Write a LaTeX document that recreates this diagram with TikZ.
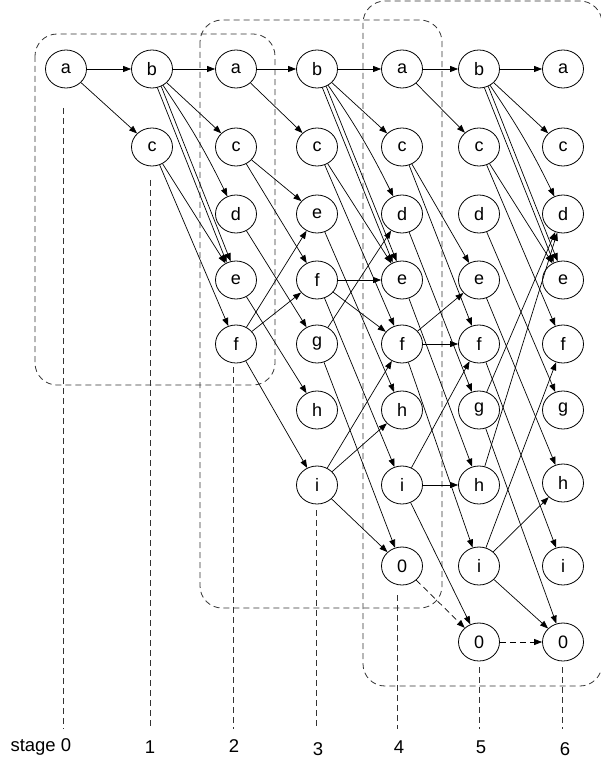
\documentclass[tikz,border=0pt]{standalone}
\usepackage{fontspec}
\setmainfont{Liberation Sans}
\usetikzlibrary{arrows.meta,shapes.geometric}
\begin{document}
\begin{tikzpicture}[x=1pt,y=-1pt,
  st/.style={ellipse,draw,line width=0.8pt,minimum width=41pt,minimum height=38pt,inner sep=0pt,font=\fontsize{18}{21}\selectfont},
  ar/.style={-{Triangle[length=8pt,width=6pt]},line width=0.7pt},
  dar/.style={ar,dash pattern=on 6pt off 4pt},
  gridline/.style={dash pattern=on 6pt off 4pt,line width=0.8pt,black!80},
  lab/.style={font=\fontsize{18.5}{21}\selectfont}]
\useasboundingbox (0,0) rectangle (601,759);
% window boxes
\draw[gridline,rounded corners=22pt] (35,34) rectangle (275,385);
\draw[gridline,rounded corners=22pt] (200,20) rectangle (442,608);
\draw[gridline,rounded corners=22pt] (363,1) rectangle (602,686);
% stage lines
\foreach \n/\x/\t in {0/63/108,1/150/180,2/233/367,3/316/510,4/397/595,5/479/667,6/562/667}{
  \coordinate (s\n t) at (\x,\t);
  \coordinate (s\n b) at (\x,729);
  \draw[gridline] (s\n t) -- (s\n b);
}
\node[lab,anchor=west] (l0) at (7,747) {stage 0};
\node[lab] (l1) at (150,747) {1};
\node[lab] (l2) at (234,746) {2};
\node[lab] (l3) at (318,749) {3};
\node[lab] (l4) at (399,747) {4};
\node[lab] (l5) at (481,747) {5};
\node[lab] (l6) at (565,749) {6};
% nodes
\node[st] (a0) at (66,69) {a};
\node[st] (b1) at (152,69) {b};
\node[st] (c1) at (152,147) {c};
\node[st] (a2) at (236,69) {a};
\node[st] (c2) at (236,147) {c};
\node[st] (d2) at (236,214) {d};
\node[st] (e2) at (236,280) {e};
\node[st] (f2) at (236,344) {f};
\node[st] (b3) at (317,69) {b};
\node[st] (c3) at (317,147) {c};
\node[st] (e3) at (317,214) {e};
\node[st] (f3) at (317,280) {f};
\node[st] (g3) at (317,344) {g};
\node[st] (h3) at (317,410) {h};
\node[st] (i3) at (317,485) {i};
\node[st] (a4) at (402,69) {a};
\node[st] (c4) at (402,147) {c};
\node[st] (d4) at (402,214) {d};
\node[st] (e4) at (402,280) {e};
\node[st] (f4) at (402,344) {f};
\node[st] (h4) at (402,410) {h};
\node[st] (i4) at (402,485) {i};
\node[st] (z4) at (402,566) {0};
\node[st] (b5) at (479,69) {b};
\node[st] (c5) at (479,147) {c};
\node[st] (d5) at (479,214) {d};
\node[st] (e5) at (479,280) {e};
\node[st] (f5) at (479,344) {f};
\node[st] (g5) at (479,410) {g};
\node[st] (h5) at (479,485) {h};
\node[st] (i5) at (479,566) {i};
\node[st] (z5) at (479,642) {0};
\node[st] (a6) at (563,69) {a};
\node[st] (c6) at (563,147) {c};
\node[st] (d6) at (563,214) {d};
\node[st] (e6) at (563,280) {e};
\node[st] (f6) at (563,344) {f};
\node[st] (g6) at (563,410) {g};
\node[st] (h6) at (563,483) {h};
\node[st] (i6) at (563,566) {i};
\node[st] (z6) at (563,642) {0};
% stage 0 -> 1
\draw[ar] (a0) -- (b1);
\draw[ar] (a0) -- (c1);
% stage 1 -> 2
\draw[ar] (b1) -- (a2);
\draw[ar] (b1) -- (c2);
\draw[ar] (b1) to[bend left=4] (d2);
\draw[ar] (b1.-62) -- (e2.106);
\draw[ar] (b1.-74) -- (e2.118);
\draw[ar] (c1) -- (e2);
\draw[ar] (c1) -- (f2);
% stage 2 -> 3
\draw[ar] (a2) -- (b3);
\draw[ar] (a2) -- (c3);
\draw[ar] (c2) -- (e3);
\draw[ar] (c2) -- (f3);
\draw[ar] (d2) -- (g3);
\draw[ar] (e2) -- (h3);
\draw[ar] (f2) -- (e3);
\draw[ar] (f2) -- (f3);
\draw[ar] (f2) -- (i3);
% stage 3 -> 4
\draw[ar] (b3) -- (a4);
\draw[ar] (b3) -- (c4);
\draw[ar] (b3) to[bend left=4] (d4);
\draw[ar] (b3.-62) -- (e4.106);
\draw[ar] (b3.-74) -- (e4.118);
\draw[ar] (c3) -- (e4);
\draw[ar] (c3) -- (f4);
\draw[ar] (e3) -- (h4);
\draw[ar] (f3) -- (e4);
\draw[ar] (f3) -- (f4);
\draw[ar] (f3) -- (i4);
\draw[ar] (g3) -- (d4);
\draw[ar] (g3) -- (z4);
\draw[ar] (i3) -- (f4);
\draw[ar] (i3) -- (h4);
\draw[ar] (i3) -- (z4);
% stage 4 -> 5
\draw[ar] (a4) -- (b5);
\draw[ar] (a4) -- (c5);
\draw[ar] (c4) -- (e5);
\draw[ar] (c4) -- (f5);
\draw[ar] (d4) -- (g5);
\draw[ar] (e4) -- (h5);
\draw[ar] (f4) -- (e5);
\draw[ar] (f4) -- (f5);
\draw[ar] (f4) -- (i5);
\draw[ar] (i4) -- (f5);
\draw[ar] (i4) -- (h5);
\draw[ar] (i4) -- (z5);
\draw[dar] (z4) -- (z5);
% stage 5 -> 6
\draw[ar] (b5) -- (a6);
\draw[ar] (b5) -- (c6);
\draw[ar] (b5) to[bend left=4] (d6);
\draw[ar] (b5.-62) -- (e6.106);
\draw[ar] (b5.-74) -- (e6.118);
\draw[ar] (c5) -- (e6);
\draw[ar] (c5) -- (f6);
\draw[ar] (d5) -- (g6);
\draw[ar] (e5) -- (h6);
\draw[ar] (f5) -- (i6);
\draw[ar] (g5) -- (d6);
\draw[ar] (g5) -- (z6);
\draw[ar] (h5) -- (d6);
\draw[ar] (i5) -- (f6);
\draw[ar] (i5) -- (h6);
\draw[ar] (i5) -- (z6);
\draw[dar] (z5) -- (z6);
\end{tikzpicture}
\end{document}
